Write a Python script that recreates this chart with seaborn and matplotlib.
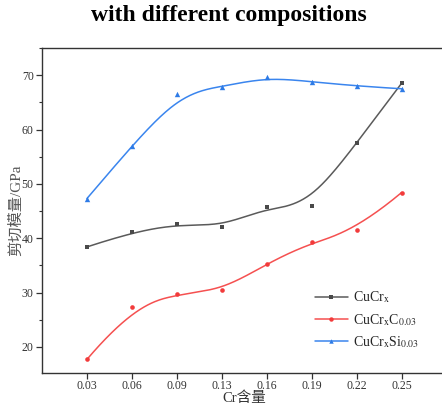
import numpy as np
import pandas as pd
import matplotlib
matplotlib.use("Agg")
import matplotlib.pyplot as plt
import seaborn as sns
from matplotlib.ticker import MultipleLocator

categories = ["0.03", "0.06", "0.09", "0.13", "0.16", "0.19", "0.22", "0.25"]
cucr = [38.4, 41.1, 42.7, 42.1, 45.7, 45.9, 57.6, 68.5]
cucr_c = [17.7, 27.4, 29.8, 30.4, 35.3, 39.3, 41.5, 48.4]
cucr_si = [47.3, 57.0, 66.5, 67.9, 69.6, 68.8, 68.0, 67.5]

series_names = ["CuCr$_{\\mathrm{x}}$",
                "CuCr$_{\\mathrm{x}}$C$_{\\mathrm{0.03}}$",
                "CuCr$_{\\mathrm{x}}$Si$_{\\mathrm{0.03}}$"]
colors = ["#4a4a4a", "#f23b3b", "#2e7be6"]
line_colors = ["#5a5a5a", "#f55050", "#3a85ee"]
markers = ["s", "o", "^"]
msizes = [10, 11, 15]

sns.set_style("ticks")
plt.rcParams["font.family"] = ["Liberation Serif", "Noto Sans CJK SC"]
plt.rcParams["mathtext.fontset"] = "stix"


def bspline(xs, ys, n_eval=300, p=3):
    ctrl = np.column_stack([xs, ys]).astype(float)
    n = len(ctrl)
    L = n - p
    knots = np.concatenate([np.zeros(p), np.arange(L + 1), np.full(p, L)]).astype(float)
    t = np.linspace(0, L, n_eval)
    t[-1] = L - 1e-9

    def basis(i, k, tt):
        if k == 0:
            return ((knots[i] <= tt) & (tt < knots[i + 1])).astype(float)
        d1 = knots[i + k] - knots[i]
        d2 = knots[i + k + 1] - knots[i + 1]
        a = (tt - knots[i]) / d1 * basis(i, k - 1, tt) if d1 > 0 else 0.0
        b = (knots[i + k + 1] - tt) / d2 * basis(i + 1, k - 1, tt) if d2 > 0 else 0.0
        return a + b

    B = np.column_stack([basis(i, p, t) for i in range(n)])
    pts = B @ ctrl
    return pts[:, 0], pts[:, 1]


fig = plt.figure(figsize=(4.42, 4.08), dpi=100)
ax = fig.add_axes([42 / 442, 35 / 408, 404.5 / 442, 325 / 408])

pos = np.arange(len(categories))
rows = []
curves = []
for name, vals in zip(series_names, [cucr, cucr_c, cucr_si]):
    for p_, v in zip(pos, vals):
        rows.append({"pos": p_, "val": v, "series": name})
    cx, cy = bspline(pos, vals)
    curves.append(pd.DataFrame({"x": cx, "y": cy, "series": name}))
pts_df = pd.DataFrame(rows)
curve_df = pd.concat(curves, ignore_index=True)

for name, col, lcol, mk, ms in zip(series_names, colors, line_colors, markers, msizes):
    sns.lineplot(data=curve_df[curve_df.series == name], x="x", y="y", ax=ax,
                 color=lcol, linewidth=1.1, sort=False, estimator=None, legend=False)
    sns.scatterplot(data=pts_df[pts_df.series == name], x="pos", y="val", ax=ax,
                    color=col, marker=mk, s=ms, linewidth=0, legend=False, zorder=3)

handles = [plt.Line2D([0], [0], color=lc, lw=1.1, marker=mk, markersize=3.2,
                      markerfacecolor=c, markeredgewidth=0)
           for c, lc, mk in zip(colors, line_colors, markers)]
ax.legend(handles, series_names, loc="lower left", bbox_to_anchor=(0.66, 0.055),
          frameon=False, fontsize=10, handlelength=2.4, handletextpad=0.4,
          labelspacing=0.45, borderaxespad=0)

ax.set_xlim(-1, 8)
ax.set_ylim(15.2, 75)
ax.set_xticks(pos)
ax.set_xticklabels(categories)
ax.yaxis.set_major_locator(MultipleLocator(10))
ax.yaxis.set_minor_locator(MultipleLocator(5))
ax.tick_params(axis="both", which="major", direction="out", length=4, width=0.9,
               labelsize=8.5, colors="#333333", pad=2)
ax.tick_params(axis="x", which="major", pad=1)
ax.tick_params(axis="y", which="minor", direction="out", length=2, width=0.8, colors="#333333")
for side in ["left", "bottom", "top"]:
    ax.spines[side].set_visible(True)
    ax.spines[side].set_color("#333333")
    ax.spines[side].set_linewidth(1.0)
ax.spines["right"].set_visible(False)

ax.set_xlabel("Cr含量", fontsize=10.5, color="#333333")
ax.xaxis.set_label_coords(0.5, -0.057)
ax.set_ylabel("剪切模量/GPa", fontsize=11, color="#555555")
ax.yaxis.set_label_coords(-0.047, 0.5)

fig.text(229 / 442, 1 - 15 / 408, "with different compositions", ha="center", va="center",
         fontsize=17, fontweight="bold", color="black")

fig.savefig("out.png", dpi=100)
